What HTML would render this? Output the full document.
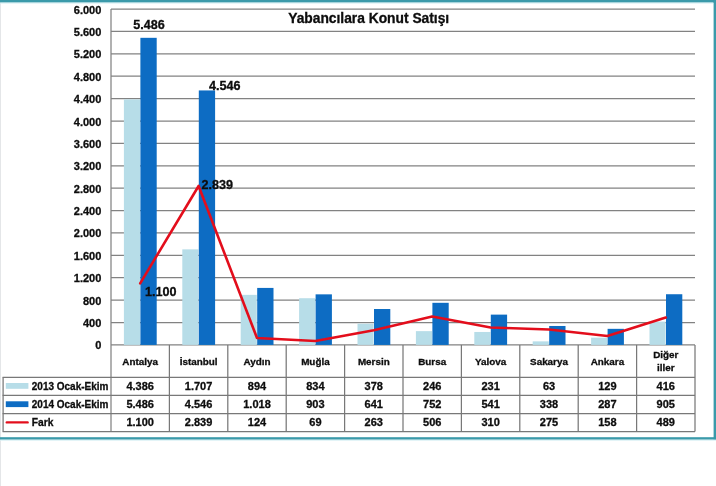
<!DOCTYPE html>
<html lang="tr"><head><meta charset="utf-8"><title>Yabancılara Konut Satışı</title>
<style>
html,body{margin:0;padding:0;background:#fff;}
body{width:716px;height:486px;overflow:hidden;position:relative;}
svg{position:absolute;left:0;top:0;display:block;}
text{font-family:"Liberation Sans",sans-serif;font-weight:bold;fill:#0c0c0c;stroke:#0c0c0c;stroke-width:0.3px;}
.ax{font-size:11px;text-anchor:end;}
.cat{font-size:9.9px;text-anchor:middle;}
.val{font-size:11px;text-anchor:middle;}
.leg{font-size:10.2px;}
.dl{font-size:12.6px;}
.title{font-size:13.8px;text-anchor:middle;}
</style></head><body>
<svg width="716" height="486" viewBox="0 0 716 486">
<defs><filter id="soft" x="0" y="0" width="716" height="486" filterUnits="userSpaceOnUse"><feGaussianBlur stdDeviation="0.42"/></filter></defs>
<g filter="url(#soft)">
<rect x="-5" y="-5" width="726" height="496" fill="#ffffff"/>
<rect x="0" y="0" width="1" height="486" fill="#e4e6e8"/>
<rect x="0" y="0" width="716" height="2.6" fill="#3a9aaa"/>
<rect x="713.6" y="0" width="2.4" height="439.5" fill="#3a9aaa"/>
<rect x="0" y="437.2" width="716" height="2.5" fill="#3a9aaa"/>
<rect x="0" y="439.7" width="716" height="1" fill="#d8f0f4"/>
<rect x="0" y="2.6" width="713" height="1" fill="#d8f0f4"/>

<g stroke="#828282" stroke-width="1.25">
<line x1="111.0" y1="344.90" x2="695.00" y2="344.90"/>
<line x1="111.0" y1="322.51" x2="695.00" y2="322.51"/>
<line x1="111.0" y1="300.12" x2="695.00" y2="300.12"/>
<line x1="111.0" y1="277.73" x2="695.00" y2="277.73"/>
<line x1="111.0" y1="255.34" x2="695.00" y2="255.34"/>
<line x1="111.0" y1="232.95" x2="695.00" y2="232.95"/>
<line x1="111.0" y1="210.56" x2="695.00" y2="210.56"/>
<line x1="111.0" y1="188.17" x2="695.00" y2="188.17"/>
<line x1="111.0" y1="165.78" x2="695.00" y2="165.78"/>
<line x1="111.0" y1="143.39" x2="695.00" y2="143.39"/>
<line x1="111.0" y1="121.00" x2="695.00" y2="121.00"/>
<line x1="111.0" y1="98.61" x2="695.00" y2="98.61"/>
<line x1="111.0" y1="76.22" x2="695.00" y2="76.22"/>
<line x1="111.0" y1="53.83" x2="695.00" y2="53.83"/>
<line x1="111.0" y1="31.44" x2="695.00" y2="31.44"/>
<line x1="111.0" y1="9.05" x2="695.00" y2="9.05"/>
<line x1="111.0" y1="9.0" x2="111.0" y2="431.3"/>
</g>
<text class="ax" x="101.3" y="349.40">0</text>
<text class="ax" x="101.3" y="327.01">400</text>
<text class="ax" x="101.3" y="304.62">800</text>
<text class="ax" x="101.3" y="282.23">1.200</text>
<text class="ax" x="101.3" y="259.84">1.600</text>
<text class="ax" x="101.3" y="237.45">2.000</text>
<text class="ax" x="101.3" y="215.06">2.400</text>
<text class="ax" x="101.3" y="192.67">2.800</text>
<text class="ax" x="101.3" y="170.28">3.200</text>
<text class="ax" x="101.3" y="147.89">3.600</text>
<text class="ax" x="101.3" y="125.50">4.000</text>
<text class="ax" x="101.3" y="103.11">4.400</text>
<text class="ax" x="101.3" y="80.72">4.800</text>
<text class="ax" x="101.3" y="58.33">5.200</text>
<text class="ax" x="101.3" y="35.94">5.600</text>
<text class="ax" x="101.3" y="13.55">6.000</text>
<rect x="123.90" y="99.39" width="16.10" height="245.51" fill="#b7dde8"/>
<rect x="140.40" y="37.82" width="16.30" height="307.08" fill="#0b6cc3"/>
<rect x="182.30" y="249.35" width="16.10" height="95.55" fill="#b7dde8"/>
<rect x="198.80" y="90.44" width="16.30" height="254.46" fill="#0b6cc3"/>
<rect x="240.70" y="294.86" width="16.10" height="50.04" fill="#b7dde8"/>
<rect x="257.20" y="287.92" width="16.30" height="56.98" fill="#0b6cc3"/>
<rect x="299.10" y="298.22" width="16.10" height="46.68" fill="#b7dde8"/>
<rect x="315.60" y="294.35" width="16.30" height="50.55" fill="#0b6cc3"/>
<rect x="357.50" y="323.74" width="16.10" height="21.16" fill="#b7dde8"/>
<rect x="374.00" y="309.02" width="16.30" height="35.88" fill="#0b6cc3"/>
<rect x="415.90" y="331.13" width="16.10" height="13.77" fill="#b7dde8"/>
<rect x="432.40" y="302.81" width="16.30" height="42.09" fill="#0b6cc3"/>
<rect x="474.30" y="331.97" width="16.10" height="12.93" fill="#b7dde8"/>
<rect x="490.80" y="314.62" width="16.30" height="30.28" fill="#0b6cc3"/>
<rect x="532.70" y="341.37" width="16.10" height="3.53" fill="#b7dde8"/>
<rect x="549.20" y="325.98" width="16.30" height="18.92" fill="#0b6cc3"/>
<rect x="591.10" y="337.68" width="16.10" height="7.22" fill="#b7dde8"/>
<rect x="607.60" y="328.84" width="16.30" height="16.06" fill="#0b6cc3"/>
<rect x="649.50" y="321.61" width="16.10" height="23.29" fill="#b7dde8"/>
<rect x="666.00" y="294.24" width="16.30" height="50.66" fill="#0b6cc3"/>
<polyline points="140.20,283.33 198.60,185.99 257.00,337.96 315.40,341.04 373.80,330.18 432.20,316.58 490.60,327.55 549.00,329.51 607.40,336.06 665.80,317.53" fill="none" stroke="#e3101c" stroke-width="2.6" stroke-linejoin="round" stroke-linecap="round"/>
<text class="dl" x="133.3" y="28.6">5.486</text>
<text class="dl" x="209" y="89.6">4.546</text>
<text class="dl" x="201.6" y="188.8">2.839</text>
<text class="dl" x="145" y="295.5">1.100</text>
<text class="title" x="368.7" y="23">Yabancılara Konut Satışı</text>
<g stroke="#787878" stroke-width="1.25" fill="none">
<line x1="169.40" y1="344.9" x2="169.40" y2="431.6"/>
<line x1="227.80" y1="344.9" x2="227.80" y2="431.6"/>
<line x1="286.20" y1="344.9" x2="286.20" y2="431.6"/>
<line x1="344.60" y1="344.9" x2="344.60" y2="431.6"/>
<line x1="403.00" y1="344.9" x2="403.00" y2="431.6"/>
<line x1="461.40" y1="344.9" x2="461.40" y2="431.6"/>
<line x1="519.80" y1="344.9" x2="519.80" y2="431.6"/>
<line x1="578.20" y1="344.9" x2="578.20" y2="431.6"/>
<line x1="636.60" y1="344.9" x2="636.60" y2="431.6"/>
<line x1="695.00" y1="344.9" x2="695.00" y2="431.6"/>
<line x1="2.6" y1="377.3" x2="695.00" y2="377.3"/>
<line x1="2.6" y1="395.4" x2="695.00" y2="395.4"/>
<line x1="2.6" y1="413.5" x2="695.00" y2="413.5"/>
<line x1="2.6" y1="431.6" x2="695.00" y2="431.6"/>
<line x1="3.1" y1="377.3" x2="3.1" y2="431.6"/>
</g>
<text class="cat" x="140.20" y="364.7">Antalya</text>
<text class="cat" x="198.60" y="364.7">İstanbul</text>
<text class="cat" x="257.00" y="364.7">Aydın</text>
<text class="cat" x="315.40" y="364.7">Muğla</text>
<text class="cat" x="373.80" y="364.7">Mersin</text>
<text class="cat" x="432.20" y="364.7">Bursa</text>
<text class="cat" x="490.60" y="364.7">Yalova</text>
<text class="cat" x="549.00" y="364.7">Sakarya</text>
<text class="cat" x="607.40" y="364.7">Ankara</text>
<text class="cat" x="665.80" y="358.3">Diğer</text>
<text class="cat" x="665.80" y="371.3">iller</text>
<text class="val" x="140.20" y="390.10">4.386</text>
<text class="val" x="198.60" y="390.10">1.707</text>
<text class="val" x="257.00" y="390.10">894</text>
<text class="val" x="315.40" y="390.10">834</text>
<text class="val" x="373.80" y="390.10">378</text>
<text class="val" x="432.20" y="390.10">246</text>
<text class="val" x="490.60" y="390.10">231</text>
<text class="val" x="549.00" y="390.10">63</text>
<text class="val" x="607.40" y="390.10">129</text>
<text class="val" x="665.80" y="390.10">416</text>
<text class="val" x="140.20" y="408.20">5.486</text>
<text class="val" x="198.60" y="408.20">4.546</text>
<text class="val" x="257.00" y="408.20">1.018</text>
<text class="val" x="315.40" y="408.20">903</text>
<text class="val" x="373.80" y="408.20">641</text>
<text class="val" x="432.20" y="408.20">752</text>
<text class="val" x="490.60" y="408.20">541</text>
<text class="val" x="549.00" y="408.20">338</text>
<text class="val" x="607.40" y="408.20">287</text>
<text class="val" x="665.80" y="408.20">905</text>
<text class="val" x="140.20" y="426.30">1.100</text>
<text class="val" x="198.60" y="426.30">2.839</text>
<text class="val" x="257.00" y="426.30">124</text>
<text class="val" x="315.40" y="426.30">69</text>
<text class="val" x="373.80" y="426.30">263</text>
<text class="val" x="432.20" y="426.30">506</text>
<text class="val" x="490.60" y="426.30">310</text>
<text class="val" x="549.00" y="426.30">275</text>
<text class="val" x="607.40" y="426.30">158</text>
<text class="val" x="665.80" y="426.30">489</text>
<rect x="5.8" y="383" width="22.6" height="5.8" fill="#b7dde8"/>
<rect x="5.8" y="401.3" width="22.6" height="5.8" fill="#0b6cc3"/>
<line x1="6.8" y1="422.4" x2="27.6" y2="422.4" stroke="#e3101c" stroke-width="2.4" stroke-linecap="round"/>
<text class="leg" x="31.8" y="390.2" textLength="76.6" lengthAdjust="spacingAndGlyphs">2013 Ocak-Ekim</text>
<text class="leg" x="31.8" y="408.3" textLength="76.6" lengthAdjust="spacingAndGlyphs">2014 Ocak-Ekim</text>
<text class="leg" x="31.8" y="425.6">Fark</text>
</g></svg></body></html>
